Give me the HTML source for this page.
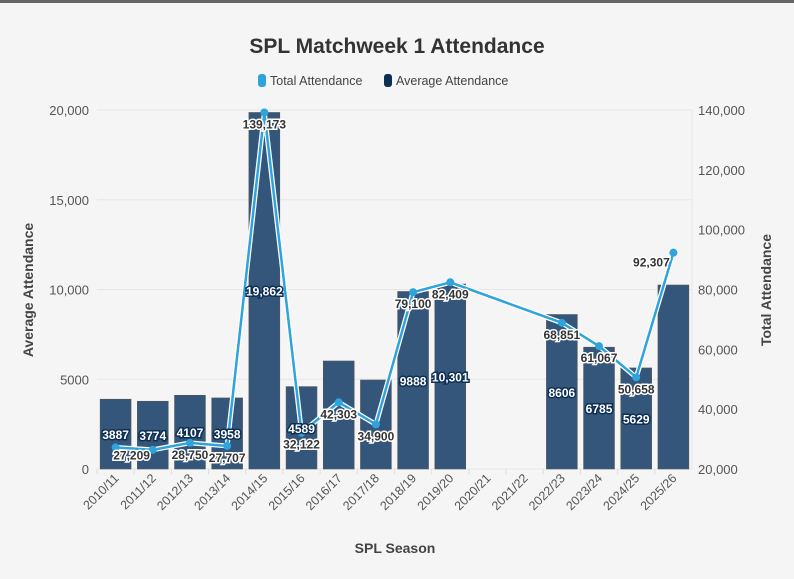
<!DOCTYPE html>
<html><head><meta charset="utf-8"><style>
html,body{margin:0;padding:0;background:#f5f5f5;}
body{width:794px;height:574px;overflow:hidden;position:relative;font-family:"Liberation Sans",sans-serif;}
#topbar{position:absolute;left:0;top:0;width:794px;height:3px;background:#666;}
</style></head><body>
<div id="topbar"></div>
<svg id="chart" width="794" height="574"></svg>
<script>
const categories=["2010/11","2011/12","2012/13","2013/14","2014/15","2015/16","2016/17","2017/18","2018/19","2019/20","2020/21","2021/22","2022/23","2023/24","2024/25","2025/26"];
const avgValues=[3887,3774,4107,3958,19862,4589,6017,4958,9888,10301,null,null,8606,6785,5629,10250];
const avgLabels=["3887","3774","4107","3958","19,862","4589","","","9888","10,301","","","8606","6785","5629",""];
const totalValues=[27209,null,28750,27707,139173,32122,42303,34900,79100,82409,null,null,68851,61067,50658,92307];
const totalValues2=[27209,26400,28750,27707,139173,32122,42303,34900,79100,82409,null,null,68851,61067,50658,92307];
const leftTicks=[0,5000,10000,15000,20000];
const leftTickLabels=["0","5000","10,000","15,000","20,000"];
const rightTicks=[20000,40000,60000,80000,100000,120000,140000];
const rightTickLabels=["20,000","40,000","60,000","80,000","100,000","120,000","140,000"];
const ns="http://www.w3.org/2000/svg";
const svg=document.getElementById('chart');
const X0=97,X1=692,Y0=469,Y1=110;
const band=(X1-X0)/categories.length;
const xc=i=>X0+band*(i+0.5);
const yL=v=>Y0-(v/20000)*(Y0-Y1);
const yR=v=>Y0-((v-20000)/120000)*(Y0-Y1);
function el(tag,attrs,parent){const e=document.createElementNS(ns,tag);for(const k in attrs)e.setAttribute(k,attrs[k]);(parent||svg).appendChild(e);return e;}
function txt(s,attrs){const t=el('text',attrs);t.textContent=s;return t;}
let t=txt("SPL Matchweek 1 Attendance",{x:397,y:53,'text-anchor':'middle','font-size':21,'font-weight':'bold',fill:'#333'});

let g=el('g',{});
el('rect',{x:258,y:74,width:8,height:13,rx:3,fill:'#2ea3dc'},g);
let l1=el('text',{x:270,y:85,'font-size':12.5,fill:'#444'},g);l1.textContent="Total Attendance";

el('rect',{x:384,y:74,width:8,height:13,rx:3,fill:'#0e2f54'},g);
let l2=el('text',{x:396,y:85,'font-size':12.5,fill:'#444'},g);l2.textContent="Average Attendance";

leftTicks.forEach((v,i)=>{
 const gl=el('line',{x1:X0,x2:X1,y1:yL(v),y2:yL(v),stroke:'#e6e6e6','stroke-width':1});
 
 const tl=txt(leftTickLabels[i],{x:89,y:yL(v)+5,'text-anchor':'end','font-size':13,fill:'#555'});
 
});
el('line',{x1:X1,x2:X1,y1:Y1,y2:Y0,stroke:'#e6e6e6'});
rightTicks.forEach((v,i)=>{
 const tl=txt(rightTickLabels[i],{x:698,y:yR(v)+5,'font-size':13,fill:'#555'});
 
});
const bw=band*0.83;
avgValues.forEach((v,i)=>{
 if(v==null)return;
 const r=el('rect',{x:xc(i)-bw/2,y:yL(v),width:bw,height:Y0-yL(v),fill:'#34567a',stroke:'#555','stroke-width':0.6});
 
 
});
categories.forEach((c,i)=>{
 el('line',{x1:X0+band*i,x2:X0+band*i,y1:Y0,y2:Y0+5,stroke:'#ddd'});
 const x=xc(i)+4,y=Y0+10;
 const tl=txt(c,{x:x,y:y,'text-anchor':'end','font-size':12.5,fill:'#555',transform:`rotate(-45 ${x} ${y})`});
 
});
let pts=[];let d='';
totalValues2.forEach((v,i)=>{if(v==null)return;d+=(d?'L':'M')+xc(i)+' '+yR(v);});
el('path',{d:d,fill:'none',stroke:'#fff','stroke-width':5,'stroke-linejoin':'round'});
const ln=el('path',{d:d,fill:'none',stroke:'#2ea3dc','stroke-width':2.5,'stroke-linejoin':'round'});

totalValues2.forEach((v,i)=>{
 if(v==null)return;
 const c=el('circle',{cx:xc(i),cy:yR(v),r:4,fill:'#2ea3dc'});
 
 
});
avgValues.forEach((v,i)=>{
 if(v==null||!avgLabels[i])return;
 const tl=txt(avgLabels[i],{x:xc(i),y:(yL(v)+Y0)/2+5,'text-anchor':'middle','font-size':12,'font-weight':'bold',fill:'#fff',stroke:'#0e2f54','stroke-width':3,'paint-order':'stroke'});
 
});
totalValues.forEach((v,i)=>{
 if(v==null)return;
 let x=xc(i),y=yR(v)+16;
 if(i===categories.length-1){x=xc(i)-22;y=yR(v)+14;}
 if(i===0){y=yR(v)+12;x=xc(i)+16}
 const tl=txt(v.toLocaleString('en-US'),{x:x,y:y,'text-anchor':'middle','font-size':12,'font-weight':'bold',fill:'#333',stroke:'#fff','stroke-width':3,'paint-order':'stroke'});
 
});
let a=txt("SPL Season",{x:395,y:553,'text-anchor':'middle','font-size':14,'font-weight':'bold',fill:'#444'});

a=txt("Average Attendance",{x:33,y:290,'text-anchor':'middle','font-size':14,'font-weight':'bold',fill:'#444',transform:'rotate(-90 33 290)'});

a=txt("Total Attendance",{x:771,y:290,'text-anchor':'middle','font-size':14,'font-weight':'bold',fill:'#444',transform:'rotate(-90 771 290)'});

</script>
</body></html>
